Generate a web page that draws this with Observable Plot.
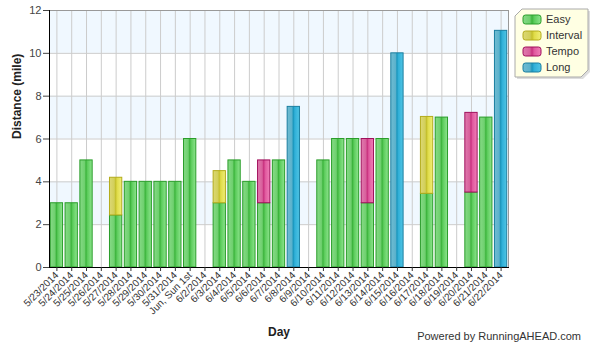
<!DOCTYPE html>
<html>
<head>
<meta charset="utf-8">
<script src="https://cdn.jsdelivr.net/npm/d3@7"></script>
<script src="https://cdn.jsdelivr.net/npm/@observablehq/plot@0.6"></script>
<style>
  html, body { margin: 0; padding: 0; background: #fff; }
  #wrap { position: relative; width: 596px; height: 349px; font-family: "Liberation Sans", Arial, sans-serif; }
  #wrap svg { position: absolute; left: 0; top: 0; }
  #powered { position: absolute; right: 15px; top: 330px; font-size: 11px; color: #333; }
</style>
</head>
<body>
<div id="wrap"></div>
<script>
const days = ["5/23/2014","5/24/2014","5/25/2014","5/26/2014","5/27/2014","5/28/2014","5/29/2014","5/30/2014","5/31/2014","Jun, Sun 1st","6/2/2014","6/3/2014","6/4/2014","6/5/2014","6/6/2014","6/7/2014","6/8/2014","6/9/2014","6/10/2014","6/11/2014","6/12/2014","6/13/2014","6/14/2014","6/15/2014","6/16/2014","6/17/2014","6/18/2014","6/19/2014","6/20/2014","6/21/2014","6/22/2014"];
const easy     = [3,3,5,0,2.43,4,4,4,4,6,0,3,5,4,3,5,0,0,5,6,6,3,6,0,0,3.44,7,0,3.5,7,0];
const interval = [0,0,0,0,1.76,0,0,0,0,0,0,1.5,0,0,0,0,0,0,0,0,0,0,0,0,0,3.59,0,0,0,0,0];
const tempo    = [0,0,0,0,0,0,0,0,0,0,0,0,0,0,2,0,0,0,0,0,0,3,0,0,0,0,0,0,3.72,0,0];
const long     = [0,0,0,0,0,0,0,0,0,0,0,0,0,0,0,0,7.5,0,0,0,0,0,0,10,0,0,0,0,0,0,11.05];
const types = ["Easy","Interval","Tempo","Long"];
const yTicks = [0,2,4,6,8,10,12];

const series = {Easy: easy, Interval: interval, Tempo: tempo, Long: long};
const styles = {
  Easy:     {id:"gEasy",     stops:["#86da86","#6fd06f","#3cb43c","#5ccc5c","#8ee48e"], stroke:"#2a9d2a"},
  Interval: {id:"gInterval", stops:["#dcd874","#d2cf5a","#c4c02c","#e0dc48","#f0ee78"], stroke:"#b4ac1c"},
  Tempo:    {id:"gTempo",    stops:["#e07aae","#d8609c","#c8307e","#e0589e","#f080b8"], stroke:"#a0105c"},
  Long:     {id:"gLong",     stops:["#70bcd2","#5cb2cc","#1a96bc","#30b0d8","#50c4e4"], stroke:"#1a7ea0"}
};

const rows = [];
days.forEach((day, i) => {
  let base = 0;
  for (const t of types) {
    const v = series[t][i];
    if (v > 0) { rows.push({day, type: t, y1: base, y2: base + v}); base += v; }
  }
});
const bands = yTicks.filter((t, i) => i % 2 === 1).map(t => [t, t + 2]);

const font = '"Liberation Sans", Arial, sans-serif';
const plot = Plot.plot({
  width: 596,
  height: 349,
  marginLeft: 49,
  marginRight: 88,
  marginTop: 10,
  marginBottom: 82,
  style: {fontFamily: font, background: "transparent", color: "#333"},
  x: {type: "band", domain: days, paddingInner: 0.17, paddingOuter: 0.085, round: false, label: null},
  y: {domain: [0, 12], label: null},
  marks: [
    Plot.rect(bands, {y1: d => d[0], y2: d => d[1], fill: "#f0f8ff"}),
    Plot.gridY(yTicks, {stroke: "#cccccc", strokeOpacity: 1}),
    Plot.gridX({stroke: "#cccccc", strokeOpacity: 1}),
    Plot.frame({stroke: "#999"}),
    ...types.map(t => Plot.barY(rows.filter(r => r.type === t), {
      x: "day", y1: "y1", y2: "y2",
      fill: `url(#${styles[t].id})`, stroke: styles[t].stroke, strokeWidth: 1
    })),
    Plot.frame({anchor: "left", stroke: "#000"}),
    Plot.frame({anchor: "bottom", stroke: "#000"}),
    Plot.axisY(yTicks, {tickSize: 6, tickPadding: 2, fontSize: 11, color: "#444", label: null}),
    Plot.axisX({tickRotate: -45, tickSize: 4, tickPadding: 2, fontSize: 10, color: "#333", label: null}),
    Plot.text(["Distance (mile)"], {frameAnchor: "left", rotate: -90, dx: -32, fontWeight: "bold", fontSize: 12, fill: "#222"}),
    Plot.text(["Day"], {frameAnchor: "bottom", dy: 68, fontWeight: "bold", fontSize: 12, fill: "#222"})
  ]
});

const defs = d3.select(plot).insert("defs", ":first-child");
for (const t of types) {
  const s = styles[t];
  const g = defs.append("linearGradient").attr("id", s.id).attr("x1", 0).attr("x2", 1).attr("y1", 0).attr("y2", 0);
  const offs = [0, 0.38, 0.5, 0.62, 1];
  s.stops.forEach((c, k) => g.append("stop").attr("offset", offs[k]).attr("stop-color", c));
}

// legend
const lg = d3.select(plot).append("g").attr("transform", "translate(515,9)").attr("text-anchor", "start");
const W = 73, H = 68, c = 7;
const poly = `${c},0 ${W},0 ${W},${H-c} ${W-c},${H} 0,${H} 0,${c}`;
lg.append("polygon").attr("points", poly).attr("transform", "translate(2,2)").attr("fill", "#ddd");
lg.append("polygon").attr("points", poly).attr("fill", "#ffffe3").attr("stroke", "#aaa").attr("stroke-width", 1);
types.forEach((t, i) => {
  const y = 10 + i * 16;
  lg.append("rect").attr("x", 8).attr("y", y - 4).attr("width", 18).attr("height", 9).attr("rx", 2.5)
    .attr("fill", `url(#${styles[t].id})`).attr("stroke", styles[t].stroke);
  lg.append("text").attr("x", 31).attr("y", y + 4).attr("font-size", 11).attr("fill", "#333")
    .attr("font-family", font).attr("text-anchor", "start").text(t);
});

const wrap = document.getElementById("wrap");
wrap.appendChild(plot);
const p = document.createElement("div");
p.id = "powered";
p.textContent = "Powered by RunningAHEAD.com";
wrap.appendChild(p);
</script>
</body>
</html>
